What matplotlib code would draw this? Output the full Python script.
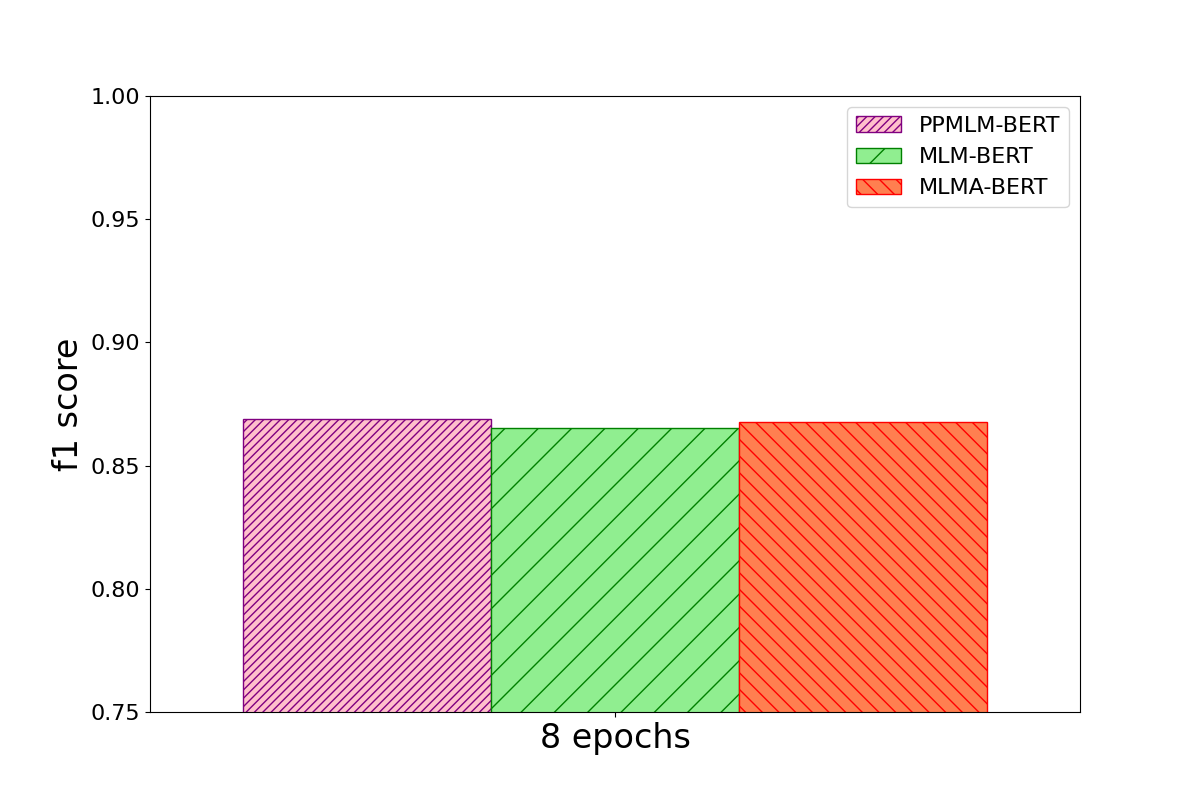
import matplotlib
matplotlib.use("Agg")
import matplotlib.pyplot as plt
import numpy as np

categories = ["8 epochs"]
models = ["PPMLM-BERT", "MLM-BERT", "MLMA-BERT"]
ppmlm = [0.869]
mlm = [0.8653]
mlma = [0.8677]

series = [ppmlm, mlm, mlma]
facecolors = ["pink", "lightgreen", "coral"]
edgecolors = ["purple", "green", "red"]
hatches = ["////", "/", "\\\\"]

fig, ax = plt.subplots(figsize=(12, 8), dpi=100)
x = np.arange(len(categories))
w = 0.2
for i, (vals, fc, ec, h, lab) in enumerate(zip(series, facecolors, edgecolors, hatches, models)):
    ax.bar(x + (i - 1) * w, vals, w, color=fc, edgecolor=ec, hatch=h, label=lab)

ax.set_ylim(0.75, 1.0)
ax.set_xlim(-0.375, 0.375)
ax.set_xticks(x)
ax.set_xticklabels(categories, fontsize=24)
ax.tick_params(axis="y", labelsize=16)
ax.set_ylabel("f1 score", fontsize=24)
ax.legend(fontsize=16, loc="upper right")
fig.savefig("out.png", dpi=100)
